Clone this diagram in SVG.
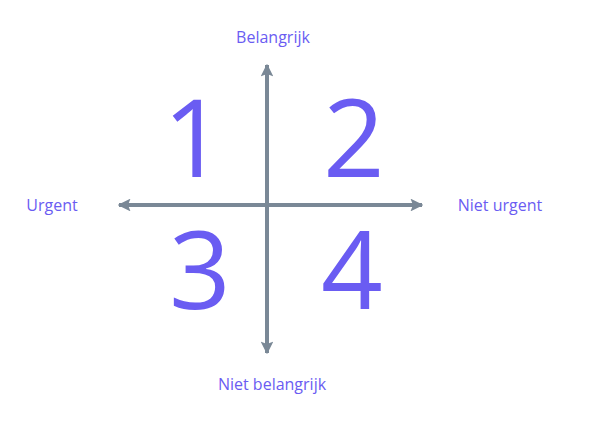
<svg xmlns="http://www.w3.org/2000/svg" width="590" height="422" viewBox="0 0 590 422">
<style>
.lbl{font-family:"Open Sans","Liberation Sans",sans-serif;font-size:16px;fill:#6a5cf2;text-anchor:middle}
.num{font-family:"Open Sans","Liberation Sans",sans-serif;font-size:108px;fill:#6a5cf2;text-anchor:middle}
.ax{stroke:#7a8896;stroke-width:4;fill:none}
</style>
<defs>
<marker id="ah" viewBox="0 0 10 10" refX="9" refY="5" markerWidth="3.2" markerHeight="3.2" orient="auto" markerUnits="strokeWidth">
<path d="M0,0 L10,5 L0,10 L2,5 Z" fill="#7a8896"/>
</marker>
</defs>
<rect width="590" height="422" fill="#ffffff"/>
<g id="connectors">
<line class="ax" x1="267" y1="205" x2="267" y2="65" marker-end="url(#ah)"/>
<line class="ax" x1="267" y1="205" x2="267" y2="353" marker-end="url(#ah)"/>
<line class="ax" x1="267" y1="205" x2="119" y2="205" marker-end="url(#ah)"/>
<line class="ax" x1="267" y1="205" x2="422" y2="205" marker-end="url(#ah)"/>
</g>
<g id="label-belangrijk"><text class="lbl" x="273" y="43">Belangrijk</text></g>
<g id="label-niet-belangrijk"><text class="lbl" x="272" y="390">Niet belangrijk</text></g>
<g id="label-urgent"><text class="lbl" x="52" y="211">Urgent</text></g>
<g id="label-niet-urgent"><text class="lbl" x="500" y="211">Niet urgent</text></g>
<g id="q1"><text class="num" x="194" y="177">1</text></g>
<g id="q2"><text class="num" x="354" y="177">2</text></g>
<g id="q3"><text class="num" x="200" y="309">3</text></g>
<g id="q4"><text class="num" x="352" y="309">4</text></g>
</svg>
